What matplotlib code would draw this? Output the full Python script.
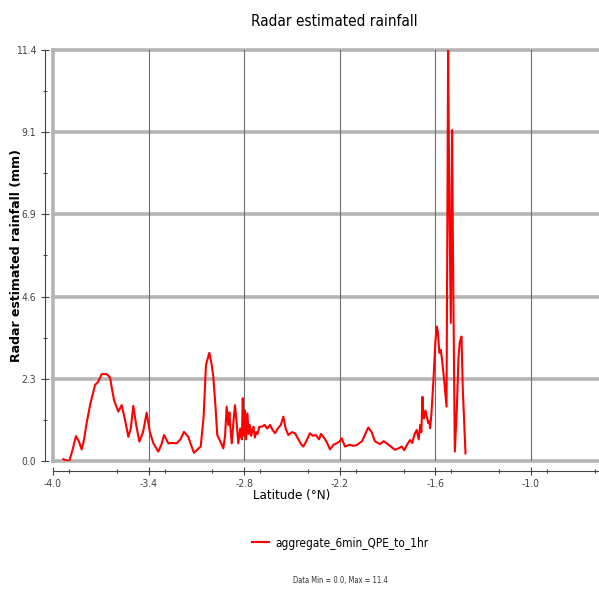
import matplotlib
matplotlib.use("Agg")
import matplotlib.pyplot as plt
from matplotlib.ticker import MultipleLocator, FixedLocator

# latitude / rainfall trace
lat = [-3.935, -3.918, -3.898, -3.878, -3.856, -3.838, -3.820, -3.805, -3.789, -3.765,
       -3.736, -3.716, -3.694, -3.663, -3.642, -3.630, -3.617, -3.590, -3.569, -3.548,
       -3.527, -3.512, -3.496, -3.478, -3.458, -3.435, -3.412, -3.392, -3.370, -3.339,
       -3.320, -3.303, -3.276, -3.250, -3.224, -3.200, -3.178, -3.151, -3.130, -3.115,
       -3.085, -3.073, -3.055, -3.040, -3.019, -3.005, -2.994, -2.980, -2.969, -2.950,
       -2.931, -2.920, -2.910, -2.900, -2.893, -2.885, -2.878, -2.868, -2.858, -2.848,
       -2.837, -2.825, -2.815, -2.809, -2.802, -2.795, -2.788, -2.780, -2.772, -2.765,
       -2.756, -2.749, -2.742, -2.733, -2.725, -2.716, -2.705, -2.690, -2.672, -2.655,
       -2.638, -2.620, -2.606, -2.590, -2.570, -2.554, -2.540, -2.523, -2.500, -2.481,
       -2.460, -2.440, -2.429, -2.410, -2.387, -2.370, -2.350, -2.330, -2.318, -2.303,
       -2.285, -2.261, -2.240, -2.219, -2.200, -2.188, -2.167, -2.140, -2.115, -2.094,
       -2.060, -2.040, -2.021, -2.000, -1.980, -1.962, -1.947, -1.925, -1.905, -1.880,
       -1.853, -1.832, -1.811, -1.795, -1.778, -1.759, -1.745, -1.730, -1.717, -1.705,
       -1.695, -1.688, -1.681, -1.676, -1.671, -1.662, -1.654, -1.645, -1.638, -1.633,
       -1.625, -1.612, -1.600, -1.592, -1.585, -1.575, -1.566, -1.558, -1.545, -1.538,
       -1.530, -1.520, -1.512, -1.503, -1.499, -1.495, -1.490, -1.478, -1.465, -1.455,
       -1.447, -1.436, -1.428, -1.411]
rain = [0.05, 0.02, 0.00, 0.30, 0.69, 0.55, 0.32, 0.60, 1.05, 1.60,
        2.11, 2.20, 2.41, 2.41, 2.32, 2.00, 1.69, 1.37, 1.55, 1.14,
        0.67, 0.90, 1.53, 1.00, 0.54, 0.80, 1.34, 0.80, 0.49, 0.26,
        0.45, 0.72, 0.49, 0.50, 0.49, 0.60, 0.81, 0.67, 0.40, 0.23,
        0.35, 0.40, 1.20, 2.66, 3.00, 2.70, 2.34, 1.50, 0.72, 0.55,
        0.35, 0.70, 1.51, 1.00, 1.35, 0.85, 0.49, 1.05, 1.55, 1.10,
        0.49, 0.90, 0.60, 1.74, 0.70, 1.40, 0.60, 1.32, 0.75, 1.00,
        0.70, 0.85, 0.95, 0.65, 0.80, 0.75, 0.95, 0.95, 1.00, 0.90,
        1.00, 0.85, 0.77, 0.90, 1.00, 1.23, 0.90, 0.72, 0.80, 0.77,
        0.60, 0.45, 0.40, 0.55, 0.77, 0.70, 0.72, 0.60, 0.75, 0.67,
        0.55, 0.32, 0.45, 0.49, 0.55, 0.63, 0.40, 0.45, 0.42, 0.44,
        0.55, 0.75, 0.93, 0.80, 0.55, 0.50, 0.47, 0.55, 0.49, 0.40,
        0.31, 0.35, 0.40, 0.30, 0.45, 0.58, 0.50, 0.75, 0.86, 0.60,
        1.00, 0.80, 1.78, 1.30, 1.18, 1.40, 1.23, 1.05, 1.10, 0.91,
        1.30, 2.25, 3.30, 3.73, 3.60, 3.00, 3.08, 2.80, 2.25, 1.90,
        1.51, 11.40, 7.00, 3.83, 6.50, 9.18, 6.00, 0.26, 1.50, 2.86,
        3.30, 3.45, 2.00, 0.21]

y_ticks = [0.0, 2.28, 4.56, 6.84, 9.12, 11.4]
y_labels = ["0.0", "2.3", "4.6", "6.9", "9.1", "11.4"]
x_ticks = [-4.0, -3.4, -2.8, -2.2, -1.6, -1.0]
x_labels = ["-4.0", "-3.4", "-2.8", "-2.2", "-1.6", "-1.0"]
series_name = "aggregate_6min_QPE_to_1hr"

narrow = dict(family="DejaVu Sans", stretch="condensed")

fig = plt.figure(figsize=(5.99, 5.90), dpi=100)
ax = fig.add_axes([53 / 599, 1 - 461 / 590, 546 / 599, 411 / 590])

ax.set_xlim(-4.0, -0.573)
ax.set_ylim(0, 11.4)

for y in y_ticks:
    ax.axhline(y, color="#b4b4b4", lw=2.6, zorder=1, clip_on=False)
for x in x_ticks[1:]:
    ax.axvline(x, color="#6e6e6e", lw=0.8, zorder=1)
ax.axvline(-4.0, color="#b4b4b4", lw=2.6, zorder=1, clip_on=False)

line, = ax.plot(lat, rain, color="#ff0000", lw=1.5, zorder=3, label=series_name)

for s in ["top", "right"]:
    ax.spines[s].set_visible(False)
ax.spines["left"].set_position(("outward", 6))
ax.spines["bottom"].set_position(("outward", 7))
for s in ["left", "bottom"]:
    ax.spines[s].set_color("#444444")
    ax.spines[s].set_linewidth(0.8)

ax.yaxis.set_major_locator(FixedLocator(y_ticks))
ax.set_yticklabels(y_labels, fontsize=7.5, color="#444444", **narrow)
ax.yaxis.set_minor_locator(FixedLocator([1.14, 3.42, 5.70, 7.98, 10.26]))
ax.xaxis.set_major_locator(FixedLocator(x_ticks))
ax.set_xticklabels(x_labels, fontsize=7.5, color="#444444", **narrow)
ax.xaxis.set_minor_locator(MultipleLocator(0.3))
ax.tick_params(which="major", direction="inout", length=6, width=0.8, color="#444444", pad=3)
ax.tick_params(which="minor", direction="inout", length=3, width=0.8, color="#444444")

ax.set_ylabel("Radar estimated rainfall (mm)", fontsize=9, fontweight="bold")
ax.yaxis.set_label_coords(-30 / 546, 0.5)
ax.text(-2.5, -0.95, "Latitude (°N)", ha="center", va="center", fontsize=9.5, **narrow)

fig.text(334 / 599, 1 - 22 / 590, "Radar estimated rainfall", ha="center", va="center",
         fontsize=11, **narrow)

leg = fig.legend(handles=[line], loc="center", bbox_to_anchor=(340 / 599, 1 - 543 / 590),
                 frameon=False, prop=dict(size=8.5, **narrow),
                 handlelength=1.5, handletextpad=0.5)

fig.text(340 / 599, 1 - 581 / 590, "Data Min = 0.0, Max = 11.4", ha="center", va="center",
         fontsize=5.5, color="#333333", **narrow)

fig.savefig("out.png", dpi=100)
